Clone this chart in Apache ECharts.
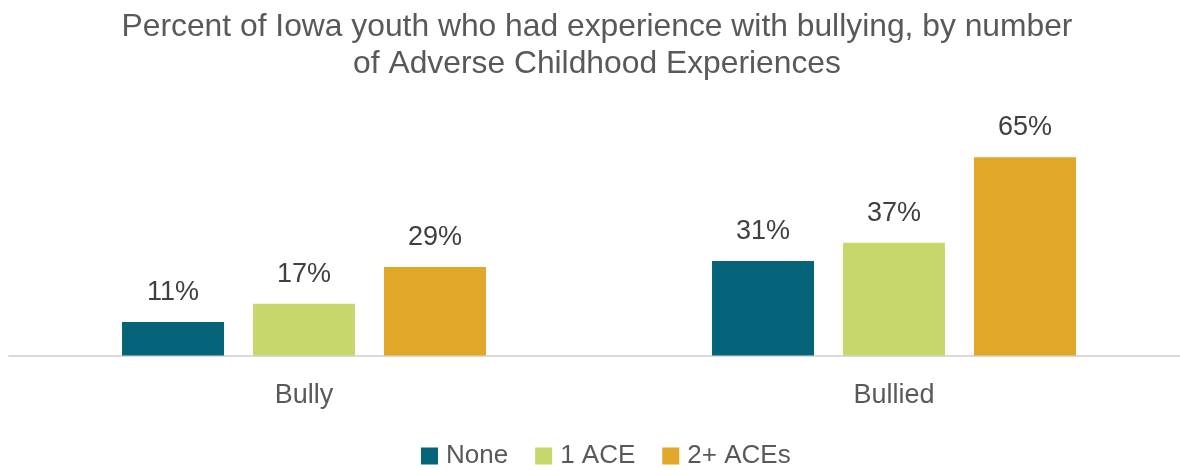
<!DOCTYPE html>
<html>
<head>
<meta charset="utf-8">
<script src="https://cdn.jsdelivr.net/npm/echarts@6/dist/echarts.min.js"></script>
<style>html,body{margin:0;padding:0;background:#fff;}#c{width:1180px;height:470px;}</style>
</head>
<body>
<div id="c"></div>
<script>
const categories = ['Bully', 'Bullied'];
const seriesNames = ['None', '1 ACE', '2+ ACEs'];
const noneValues = [11, 31];
const oneAceValues = [17, 37];
const twoPlusValues = [29, 65];
const colors = ['#05637a', '#c8d76c', '#e0a729'];
const FONT = '"Liberation Sans", Arial, sans-serif';

const chart = echarts.init(document.getElementById('c'), null, {renderer: 'canvas'});
const values = [noneValues, oneAceValues, twoPlusValues];
chart.setOption({
  animation: false,
  textStyle: {fontFamily: FONT},
  title: {
    text: 'Percent of Iowa youth who had experience with bullying, by number\nof Adverse Childhood Experiences',
    left: 597, textAlign: 'center', top: 9, padding: 0,
    textStyle: {fontFamily: FONT, fontSize: 31.8, fontWeight: 'normal', color: '#595959', lineHeight: 37}
  },
  legend: {
    top: 438, left: 416,
    itemWidth: 17, itemHeight: 17, itemGap: 27,
    icon: 'rect',
    textStyle: {fontFamily: FONT, fontSize: 26, color: '#595959', padding: [0, 0, 0, 3]},
    data: seriesNames
  },
  grid: [
    {left: 9, right: 0, top: 142, bottom: 114.5, containLabel: false},
    {left: 304, right: 286, top: 142, bottom: 114.5, containLabel: false}
  ],
  xAxis: [
    {
      gridIndex: 0, type: 'category', data: categories,
      axisLine: {lineStyle: {color: '#d9d9d9', width: 2}},
      axisTick: {show: false}, axisLabel: {show: false}
    },
    {
      gridIndex: 1, type: 'category', data: categories, boundaryGap: false,
      axisLine: {show: false}, axisTick: {show: false},
      axisLabel: {fontFamily: FONT, fontSize: 27, color: '#595959', margin: 27}
    }
  ],
  yAxis: [
    {gridIndex: 0, type: 'value', min: 0, max: 70, show: false, splitLine: {show: false}},
    {gridIndex: 1, type: 'value', min: 0, max: 70, show: false, splitLine: {show: false}}
  ],
  series: seriesNames.map((n, i) => ({
    name: n, type: 'bar', data: values[i], barWidth: 102, barGap: '28.4%',
    xAxisIndex: 1, yAxisIndex: 1,
    itemStyle: {color: colors[i]},
    label: {show: true, position: 'top', distance: 16, formatter: '{c}%', fontFamily: FONT, fontSize: 27, color: '#404040'}
  }))
});
</script>
</body>
</html>
